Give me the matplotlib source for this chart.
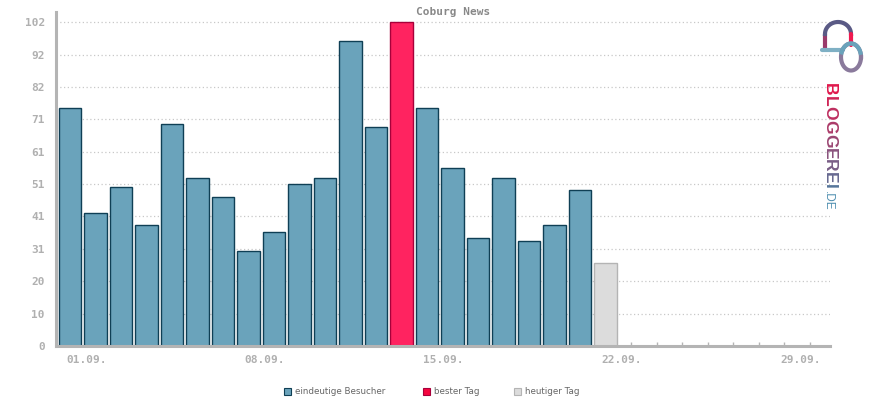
import numpy as np
import matplotlib.pyplot as plt
from matplotlib.patches import Rectangle
from matplotlib.colors import to_rgb

# daily unique visitors, September
days = ["%02d.09." % d for d in range(1, 31)]
visitors = [75, 42, 50, 38, 70, 53, 47, 30, 36, 51, 53, 96, 69, 102, 75,
            56, 34, 53, 33, 38, 49, 26]
best_day = 13      # index of the best day
today = 21         # index of today
ytick_vals = [0, 10, 20, 31, 41, 51, 61, 71, 82, 92, 102]
ytick_pos = [i * 10.2 for i in range(11)]
xlabel_days = [0, 7, 14, 21, 28]

blue, blue_edge = '#6aa3bb', '#0f3f55'
red, red_edge = '#ff2360', '#a8003a'
grey, grey_edge = '#dcdcdc', '#b4b4b4'
axis_grey = '#b4b4b4'
mono = 'DejaVu Sans Mono'

W, H = 870, 400
fig = plt.figure(figsize=(8.7, 4), dpi=100)
ax = fig.add_axes([56 / W, 1 - 346 / H, (830 - 56) / W, (346 - 12) / H])

x = np.arange(len(visitors))
fills, edges = [], []
for i in x:
    if i == best_day:
        fills.append(red); edges.append(red_edge)
    elif i == today:
        fills.append(grey); edges.append(grey_edge)
    else:
        fills.append(blue); edges.append(blue_edge)
ax.bar(x, visitors, width=0.87, color=fills, edgecolor=edges, linewidth=1.0, zorder=3)

ax.set_xlim(-0.55, 29.8)
ax.set_ylim(0, 105.2)

ax.set_yticks(ytick_pos)
ax.set_yticklabels([str(v) for v in ytick_vals], fontfamily=mono, fontsize=8,
                   fontweight='bold', color='#b0b0b0')
ax.yaxis.grid(True, linestyle=(0, (1, 2)), color='#c8c8c8', linewidth=0.9, zorder=0)
ax.tick_params(axis='y', length=0, pad=8)

ax.set_xticks(np.arange(30))
ax.set_xticklabels(['' for _ in range(30)])
ax.tick_params(axis='x', direction='in', length=3, color=axis_grey, width=1)
for i in xlabel_days:
    ax.text(i - 0.15, -2.8, days[i], ha='left', va='top', fontfamily=mono,
            fontsize=8, fontweight='bold', color='#b0b0b0')

for s in ['top', 'right']:
    ax.spines[s].set_visible(False)
ax.spines['left'].set_color(axis_grey)
ax.spines['left'].set_linewidth(2.2)
ax.spines['bottom'].set_color(axis_grey)
ax.spines['bottom'].set_linewidth(2.2)
ax.spines['bottom'].set_zorder(4)

fig.text(453 / W, 1 - 12 / H, "Coburg News", ha='center', va='center',
         fontfamily=mono, fontsize=8, fontweight='bold', color='#888888')

# legend
legend_items = [("eindeutige Besucher", blue, blue_edge, 284),
                ("bester Tag", '#f5063f', red_edge, 423),
                ("heutiger Tag", grey, grey_edge, 514)]
for label, fc, ec, px in legend_items:
    fig.patches.append(Rectangle((px / W, 1 - 395 / H), 7 / W, 7 / H,
                                 facecolor=fc, edgecolor=ec, linewidth=0.8,
                                 transform=fig.transFigure, figure=fig))
    fig.text((px + 11) / W, 1 - 391.5 / H, label, ha='left', va='center',
             fontsize=6.3, color='#666666')

# bloggerei logo: letters placed one by one with a colour gradient
c0, c1 = np.array(to_rgb('#e0184c')), np.array(to_rgb('#56759a'))
letters = "BLOGGEREI"
advance = [.722, .611, .778, .778, .778, .667, .722, .667, .278]
em = 17.6
ypx = 83
for k, (ch, adv) in enumerate(zip(letters, advance)):
    col = c0 + (c1 - c0) * k / (len(letters) - 1)
    fig.text(825 / W, 1 - ypx / H, ch, rotation=270, rotation_mode='anchor',
             ha='left', va='baseline', fontfamily='Liberation Sans',
             fontweight='bold', fontsize=12.6, color=col)
    ypx += adv * em
fig.text(825 / W, 1 - (ypx + 2) / H, ".DE", rotation=270, rotation_mode='anchor',
         ha='left', va='baseline', fontfamily='Liberation Sans', fontsize=8.5,
         color='#4f8fb0')

logo = fig.add_axes([815 / W, 1 - 78 / H, 55 / W, 62 / H])
logo.set_xlim(815, 870); logo.set_ylim(78, 16); logo.axis('off')
t = np.linspace(np.pi, 2 * np.pi, 40)
# arch
logo.plot([825, 825], [49, 34], color='#9a3a6a', linewidth=3, solid_capstyle='round')
logo.plot(838 + 13 * np.cos(t), 34 + 12 * np.sin(t), color='#5a5a85', linewidth=3)
logo.plot([851, 851], [34, 45], color='#f01a50', linewidth=3, solid_capstyle='round')
logo.plot([822, 843], [50, 50], color='#7fb0c4', linewidth=3, solid_capstyle='round')
# ring
t2 = np.linspace(0, 2 * np.pi, 100)
logo.plot(851 + 10 * np.cos(t2), 57 + 13.5 * np.sin(t2), color='#8a7a9c', linewidth=3)
logo.plot(851 + 10 * np.cos(t2[55:95]), 57 + 13.5 * np.sin(t2[55:95]),
          color='#6aa3bb', linewidth=3)

fig.savefig("out.png", dpi=100)
